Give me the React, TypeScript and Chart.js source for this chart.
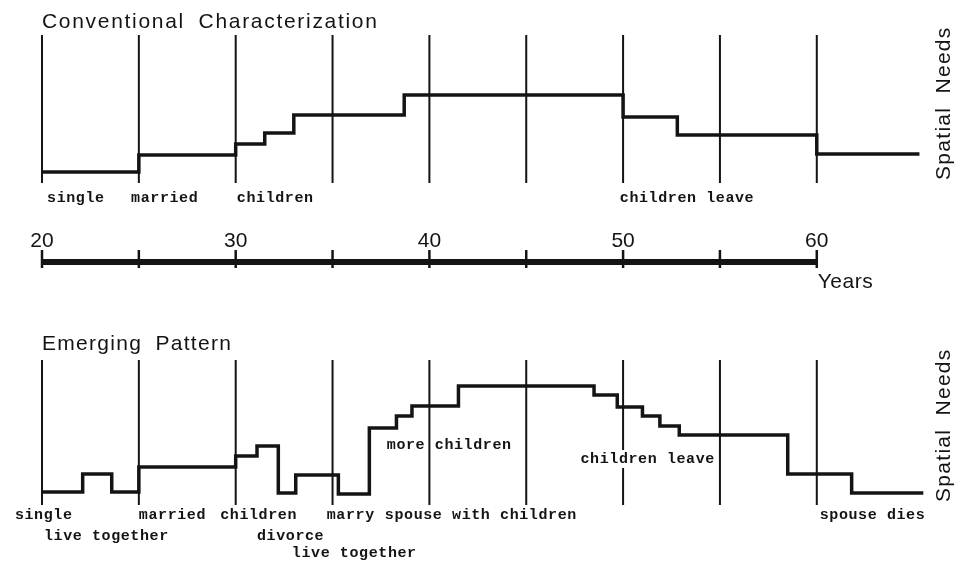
import { useEffect, useRef } from "react";
import { Chart, registerables } from "chart.js";

Chart.register(...registerables);

// ---- data ----
const gridYears = [20, 25, 30, 35, 40, 45, 50, 55, 60];
const axisTickYears = [20, 25, 30, 35, 40, 45, 50, 55, 60];

const conventionalAges = [20, 25, 30, 31.5, 33, 38.7, 50, 52.8, 60, 65.3];
const conventionalNeeds = [1.1, 2.8, 3.9, 5.0, 6.8, 8.8, 6.6, 4.8, 2.9, 2.9];

const emergingAges = [20, 22.1, 23.6, 25, 30, 31.1, 32.2, 33.1, 35.3, 36.9, 38.3, 39.1, 41.5, 48.5, 49.7, 51.0, 51.9, 52.9, 58.5, 61.8, 65.5];
const emergingNeeds = [1.3, 3.1, 1.3, 3.8, 4.9, 5.9, 1.2, 3.0, 1.1, 7.7, 8.9, 9.9, 11.9, 11.0, 9.8, 8.9, 7.9, 7.0, 3.1, 1.2, 1.2];

const conventionalEvents = ["single", "married", "children", "children leave"];
const conventionalEventAges = [20.26, 24.6, 30.06, 49.83];
const conventionalEventRows = [-1.5, -1.5, -1.5, -1.5];

const emergingEvents = ["single", "live together", "married", "children", "divorce", "live together", "marry", "spouse with children", "more children", "children leave", "spouse dies"];
const emergingEventAges = [18.6, 20.1, 25.0, 29.2, 31.1, 32.9, 34.7, 37.7, 37.8, 47.8, 60.15];
const emergingEventRows = [-1.0, -3.1, -1.0, -1.0, -3.1, -4.8, -1.0, -1.0, 6.0, 4.6, -1.0];
const emergingEventKnockout = [false, false, false, false, false, false, false, false, false, true, false];

const panelTitles = ["Conventional Characterization", "Emerging Pattern"];
const axisTitle = "Years";
const valueAxisTitle = "Spatial Needs";

// ---- layout constants ----
const INK = "#141414";
const TOP_PANEL_HEIGHT = 14.8;
const BOTTOM_PANEL_HEIGHT = 14.5;
const AXIS_LEVEL = -7.9;
const TITLE_LEVEL = 15.5;

function steps(ages: number[], needs: number[]) {
  return ages.map((a, i) => ({ x: a, y: needs[i] }));
}

function gridSegments(years: number[], top: number) {
  const pts: { x: number; y: number | null }[] = [];
  years.forEach((yr) => {
    pts.push({ x: yr, y: 0 });
    pts.push({ x: yr, y: top });
    pts.push({ x: yr, y: null });
  });
  return pts;
}

const textPlugin = {
  id: "figureText",
  afterDatasetsDraw(chart: any) {
    const { ctx, scales } = chart;
    const x = scales.x;
    const yT = scales.yTop;
    const yB = scales.yBot;
    ctx.save();
    ctx.fillStyle = INK;
    ctx.textAlign = "left";

    // panel titles
    ctx.font = '21px "Liberation Sans", Arial, sans-serif';
    (ctx as any).wordSpacing = "6px";
    ctx.textBaseline = "alphabetic";
    (ctx as any).letterSpacing = "1.7px";
    ctx.fillText(panelTitles[0], x.getPixelForValue(20), yT.getPixelForValue(TITLE_LEVEL));
    (ctx as any).letterSpacing = "1.3px";
    ctx.fillText(panelTitles[1], x.getPixelForValue(20), yB.getPixelForValue(TITLE_LEVEL));

    // axis title
    (ctx as any).letterSpacing = "0.5px";
    ctx.fillText(axisTitle, x.getPixelForValue(60) + 1, yT.getPixelForValue(-10.5));

    // value axis titles (rotated)
    (ctx as any).letterSpacing = "1.3px";
    ctx.textBaseline = "middle";
    const vx = x.getPixelForValue(66.6);
    [yT.getPixelForValue(0.3), yB.getPixelForValue(0.3)].forEach((py: number) => {
      ctx.save();
      ctx.translate(vx, py);
      ctx.rotate(-Math.PI / 2);
      ctx.fillText(valueAxisTitle, 0, 0);
      ctx.restore();
    });

    // event labels
    ctx.font = 'bold 15px "Liberation Mono", "DejaVu Sans Mono", monospace';
    (ctx as any).letterSpacing = "0.6px";
    (ctx as any).wordSpacing = "0px";
    ctx.textBaseline = "middle";
    conventionalEvents.forEach((t, i) => {
      ctx.fillText(t, x.getPixelForValue(conventionalEventAges[i]), yT.getPixelForValue(conventionalEventRows[i]));
    });
    emergingEvents.forEach((t, i) => {
      const px = x.getPixelForValue(emergingEventAges[i]);
      const py = yB.getPixelForValue(emergingEventRows[i]);
      if (emergingEventKnockout[i]) {
        const w = ctx.measureText(t).width;
        ctx.save();
        ctx.fillStyle = "#ffffff";
        ctx.fillRect(px - 1, py - 9, w + 1, 18);
        ctx.restore();
      }
      ctx.fillText(t, px, py);
    });
    ctx.restore();
  },
};

export default function App() {
  const ref = useRef<HTMLCanvasElement | null>(null);

  useEffect(() => {
    if (!ref.current) return;
    const lineStyle = {
      borderColor: INK,
      pointRadius: 0,
      fill: false,
      clip: false as const,
      borderCapStyle: "butt" as const,
      borderJoinStyle: "miter" as const,
    };
    const chart = new Chart(ref.current, {
      type: "line",
      data: {
        datasets: [
          {
            ...lineStyle,
            label: "grid top",
            data: gridSegments(gridYears, TOP_PANEL_HEIGHT),
            yAxisID: "yTop",
            borderWidth: 2,
            spanGaps: false,
          },
          {
            ...lineStyle,
            label: "grid bottom",
            data: gridSegments(gridYears, BOTTOM_PANEL_HEIGHT),
            yAxisID: "yBot",
            borderWidth: 2,
            spanGaps: false,
          },
          {
            ...lineStyle,
            label: "Conventional Characterization",
            data: steps(conventionalAges, conventionalNeeds),
            yAxisID: "yTop",
            stepped: "before",
            borderWidth: 3.5,
          },
          {
            ...lineStyle,
            label: "Emerging Pattern",
            data: steps(emergingAges, emergingNeeds),
            yAxisID: "yBot",
            stepped: "before",
            borderWidth: 3.5,
          },
          {
            ...lineStyle,
            label: "age axis",
            data: [
              { x: axisTickYears[0], y: AXIS_LEVEL },
              { x: axisTickYears[axisTickYears.length - 1], y: AXIS_LEVEL },
            ],
            yAxisID: "yTop",
            borderWidth: 6,
          },
          {
            label: "age ticks",
            data: axisTickYears.map((a) => ({ x: a, y: AXIS_LEVEL + 0.3 })),
            yAxisID: "yTop",
            clip: false,
            showLine: false,
            pointStyle: "line",
            rotation: 90,
            pointRadius: 9,
            pointBorderWidth: 2.5,
            pointBorderColor: INK,
            borderColor: INK,
          },
        ],
      },
      options: {
        animation: false,
        responsive: false,
        layout: { padding: { left: 42, right: 22, top: 35, bottom: 59 } },
        plugins: { legend: { display: false }, tooltip: { enabled: false } },
        scales: {
          x: {
            type: "linear",
            min: 20,
            max: 66,
            position: { yTop: AXIS_LEVEL } as any,
            grid: { display: false, drawTicks: false },
            border: { display: false },
            ticks: {
              stepSize: 10,
              includeBounds: false,
              padding: -33,
              color: INK,
              maxRotation: 0,
              autoSkip: false,
              font: { family: '"Liberation Sans", Arial, sans-serif', size: 21 },
            },
          },
          yTop: { type: "linear", min: TOP_PANEL_HEIGHT - 47, max: TOP_PANEL_HEIGHT, display: false },
          yBot: { type: "linear", min: 0, max: 47, display: false },
        },
      },
      plugins: [textPlugin],
    });
    return () => chart.destroy();
  }, []);

  return (
    <canvas
      ref={ref}
      width={955}
      height={564}
      style={{ position: "absolute", left: 0, top: 0, background: "#ffffff" }}
    />
  );
}
